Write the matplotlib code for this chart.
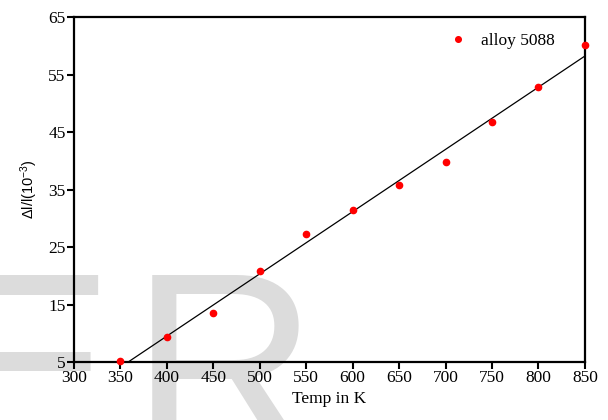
import numpy as np
import matplotlib.pyplot as plt

# thermal expansion data
temp = [350, 400, 450, 500, 550, 600, 650, 700, 750, 800, 850]
dl_l = [5.1, 9.35, 13.6, 20.8, 27.2, 31.4, 35.8, 39.8, 46.7, 52.8, 60.2]
xticks = list(range(300, 851, 50))
yticks = list(range(5, 66, 10))

serif = ['Liberation Serif', 'DejaVu Serif']
sans = ['Liberation Sans', 'DejaVu Sans']
plt.rcParams['mathtext.default'] = 'regular'

fig = plt.figure(figsize=(6.08, 4.2), dpi=100)
ax = fig.add_axes([0.1217, 0.138, 0.8403, 0.8215])
ax.patch.set_visible(False)

# faded watermark in the background
fig.text(-0.095, -0.079, 'E', family=sans, fontsize=186, color='#dcdcdc',
         va='baseline', ha='left', zorder=-1)
fig.text(0.215, -0.079, 'R', family=sans, fontsize=186, color='#dcdcdc',
         va='baseline', ha='left', zorder=-1)

# least squares line through the points
k, b = np.polyfit(temp, dl_l, 1)
xs = np.array([300, 850])
ax.plot(xs, k * xs + b, color='black', lw=0.9, zorder=2)
ax.plot(temp, dl_l, 'o', color='red', ms=4.5, ls='none', clip_on=False,
        zorder=3, label='alloy 5088')

ax.set_xlim(300, 850)
ax.set_ylim(5, 65)
ax.set_xticks(xticks)
ax.set_yticks(yticks)
for s in ax.spines.values():
    s.set_linewidth(1.6)
ax.tick_params(direction='out', length=5, width=1.5, labelsize=12.5, pad=1)
for lab in ax.get_xticklabels() + ax.get_yticklabels():
    lab.set_family(serif)

ax.set_xlabel('Temp in K', family=serif, fontsize=12.5, labelpad=3)
ax.set_ylabel('\u0394l/l(10$^{-3}$)', family=sans, fontsize=10.5, labelpad=6)

ax.legend(loc='upper right', bbox_to_anchor=(0.972, 1.0), frameon=False,
          prop={'family': serif, 'size': 12.5}, handletextpad=0.6,
          handlelength=1.5, markerscale=0.9)

fig.savefig('out.png', dpi=100)
